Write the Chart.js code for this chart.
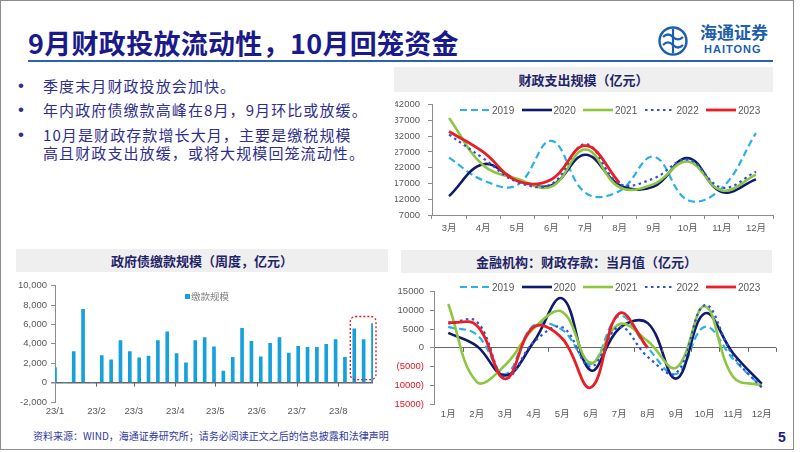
<!DOCTYPE html>
<html>
<head>
<meta charset="utf-8">
<script src="https://cdn.jsdelivr.net/npm/chart.js@4.4.1/dist/chart.umd.min.js"></script>
<style>
  body { margin: 0; background: #fff; }
  #slide { position: relative; width: 802px; height: 452px; overflow: hidden; background: #fff;
           font-family: "Noto Sans CJK SC", sans-serif; }
  #frame { position: absolute; left: 0; top: 0; width: 792px; height: 448px; border: 1px solid #8c8c8c; }
  #title { position: absolute; left: 28px; top: 27px; line-height: 32px; font-size: 27px; font-weight: 700;
           color: #1a1a8c; white-space: nowrap; letter-spacing: 0.3px; }
  #titleLine { position: absolute; left: 28px; top: 60px; width: 745px; height: 1.5px; background: #3060b0; }
  .bullet { position: absolute; left: 43px; font-size: 15px; line-height: 18px; color: #2e2e8f;
            letter-spacing: 1.1px; white-space: nowrap; }
  .bullet::before { content: "•"; position: absolute; left: -25px; top: 0; font-family: "Liberation Sans", Arial, sans-serif;
                    font-size: 17px; line-height: 18px; }
  .panelTitle { position: absolute; background: #efefef; text-align: center; font-size: 13px; font-weight: 700;
                color: #1f2468; }
  canvas { position: absolute; }
  .legend { position: absolute; display: flex; height: 10px; align-items: center;
            font-family: "Liberation Sans", Arial, sans-serif; font-size: 10px; color: #595959; }
  .lg-item { width: 61.5px; display: flex; align-items: center; }
  .lg-item span { margin-left: 2px; }
  #payLegend { position: absolute; left: 185px; top: 289px; font-size: 9.5px; color: #7f7f7f; display: flex;
               align-items: center; }
  #payLegend i { display: inline-block; width: 5px; height: 5px; background: #16a1dc; margin-right: 1px; }
  #footer { position: absolute; left: 33px; top: 429px; font-size: 10px; line-height: 14px; color: #2f3a9f; }
  #pageNo { position: absolute; left: 778px; top: 429px; font-family: "Liberation Sans", Arial, sans-serif;
            font-weight: 700; font-size: 14px; color: #1a1a8c; }
  #logoCn { position: absolute; left: 700px; top: 22px; font-size: 17px; font-weight: 700; color: #1d5fad;
            line-height: 20px; }
  #logoEn { position: absolute; left: 704px; top: 43px; font-family: "Liberation Sans", Arial, sans-serif;
            font-size: 11px; font-weight: 700; letter-spacing: 1px; color: #1d5fad; }
</style>
</head>
<body>
<div id="slide">
  <div id="frame"></div>
  <div id="title">9月财政投放流动性，10月回笼资金</div>
  <div id="titleLine"></div>
  <svg style="position:absolute;left:657px;top:25px" width="32" height="32" viewBox="0 0 32 32">
    <circle cx="16" cy="16" r="13.5" fill="none" stroke="#1d5fad" stroke-width="2.4"/>
    <path d="M16 4 V28" stroke="#1d5fad" stroke-width="2.2" fill="none"/>
    <path d="M6 12 Q11 7 16 12 Q21 17 26 12" stroke="#1d5fad" stroke-width="2.2" fill="none"/>
    <path d="M6 20 Q11 15 16 20 Q21 25 26 20" stroke="#1d5fad" stroke-width="2.2" fill="none"/>
  </svg>
  <div id="logoCn">海通证券</div>
  <div id="logoEn">HAITONG</div>

  <div class="bullet" style="top:77px">季度末月财政投放会加快。</div>
  <div class="bullet" style="top:101px">年内政府债缴款高峰在8月，9月环比或放缓。</div>
  <div class="bullet" style="top:126px">10月是财政存款增长大月，主要是缴税规模<br>高且财政支出放缓，或将大规模回笼流动性。</div>

  <div class="panelTitle" style="left:394px;top:67px;width:379px;height:25px;line-height:25px">财政支出规模（亿元）</div>
  <canvas id="expChart" width="400" height="143" style="left:395px;top:91px"></canvas>
  <div class="legend" id="expLegend" style="left:460px;top:105px"></div>

  <div class="panelTitle" style="left:16px;top:249px;width:372px;height:23px;line-height:23px">政府债缴款规模（周度，亿元）</div>
  <canvas id="payChart" width="385" height="141" style="left:8px;top:276px"></canvas>
  <div id="payLegend"><i></i>缴款规模</div>

  <div class="panelTitle" style="left:401px;top:250px;width:371px;height:23px;line-height:23px">金融机构：财政存款：当月值（亿元）</div>
  <canvas id="depChart" width="400" height="140" style="left:395px;top:280px"></canvas>
  <div class="legend" id="depLegend" style="left:460px;top:282px"></div>

  <div id="footer">资料来源：WIND，海通证券研究所；请务必阅读正文之后的信息披露和法律声明</div>
  <div id="pageNo">5</div>
</div>

<script>
// 财政支出规模（亿元）
const expMonths = ['3月', '4月', '5月', '6月', '7月', '8月', '9月', '10月', '11月', '12月'];
const exp2019 = [25200, 18000, 16500, 30500, 14000, 14600, 25500, 11700, 15500, 33000];
const exp2020 = [13000, 23100, 18200, 16400, 26100, 16500, 16000, 25100, 14300, 18300];
const exp2021 = [37800, 22800, 18500, 16000, 27800, 15800, 16800, 24000, 14800, 19800];
const exp2022 = [32500, 25000, 17500, 16800, 29500, 16900, 18600, 24600, 15700, 20700];
const exp2023 = [33500, 27000, 17800, 18300, 29000, 17200, null, null, null, null];

// 金融机构：财政存款：当月值（亿元）
const depMonths = ['1月', '2月', '3月', '4月', '5月', '6月', '7月', '8月', '9月', '10月', '11月', '12月'];
const dep2019 = [5600, 3500, -7000, 6000, 4800, -4300, 8500, 0, -7000, 5600, -3000, -10500];
const dep2020 = [4000, 500, -7400, 1600, 13200, -6000, 5200, 6600, -8200, 9200, -1500, -9600];
const dep2021 = [11700, -9100, -4600, 5200, 9600, -4000, 6300, 1800, -5300, 11100, -7800, -10000];
const dep2022 = [6500, 7000, -8000, 1500, 5500, -5000, 5600, -2400, -6700, 11400, -2200, -10600];
const dep2023 = [6800, 6000, -8300, 5600, 2500, -10600, 9200, 0, null, null, null, null];

// 政府债缴款规模（周度，亿元）：x 为自 2023-01-01 起的天数
const payDays = [0, 7, 14, 21, 28, 35, 42, 49, 56, 63, 70, 77, 84, 91, 98, 105, 112, 119, 126, 133, 140,
                 147, 154, 161, 168, 175, 182, 189, 196, 203, 210, 217, 224, 231, 238];
const payValues = [1550, 0, 3200, 7550, 0, 2800, 2350, 4350, 3200, 2550, 2750, 4330, 5250, 3000, 2050, 4350,
                   4650, 3700, 1200, 2600, 5600, 4250, 2650, 4050, 4650, 3050, 3750, 3650, 3650, 3950, 4450,
                   2600, 5550, 4450, 6100];
const payTickDays = [0, 31, 59, 90, 120, 151, 181, 212];
const payTickLabels = ['23/1', '23/2', '23/3', '23/4', '23/5', '23/6', '23/7', '23/8'];

const seriesNames = ['2019', '2020', '2021', '2022', '2023'];

// 样式
const seriesColors = ['#2bb0e6', '#0d1a6e', '#8dc63f', '#2f4fd8', '#ec1c24'];
const seriesDash = [[7, 4], [], [], [2.5, 3.5], []];
const seriesWidth = [2.2, 2.6, 2.6, 2.2, 2.8];
const axisColor = '#8c8c8c';
const labelColor = '#595959';
const tickFont = { family: '"Liberation Sans", "Noto Sans CJK SC", sans-serif', size: 9.5 };

Chart.defaults.animation = false;
Chart.defaults.responsive = false;
Chart.defaults.devicePixelRatio = 1;
Chart.defaults.plugins.legend.display = false;
Chart.defaults.plugins.tooltip.enabled = false;

function lineDatasets(series) {
    return series.map((data, i) => ({
        label: seriesNames[i],
        data: data,
        borderColor: seriesColors[i],
        borderWidth: seriesWidth[i],
        borderDash: seriesDash[i],
        pointRadius: 0,
        tension: 0.4,
        fill: false,
        order: series.length - i
    }));
}

function buildLegend(id) {
    const box = document.getElementById(id);
    seriesNames.forEach((name, i) => {
        const item = document.createElement('div');
        item.className = 'lg-item';
        const dash = seriesDash[i].length ? `stroke-dasharray="${seriesDash[i].join(',')}"` : '';
        item.innerHTML = `<svg width="30" height="6"><line x1="0" y1="3" x2="30" y2="3" stroke="${seriesColors[i]}" ` +
            `stroke-width="${seriesWidth[i]}" ${dash}/></svg><span>${name}</span>`;
        box.appendChild(item);
    });
}

// 0 轴上的刻度线
function zeroTicks(getXs) {
    return {
        id: 'zeroTicks',
        afterDraw(chart) {
            const { ctx, scales: { x, y } } = chart;
            const y0 = y.getPixelForValue(0);
            ctx.save();
            ctx.strokeStyle = '#666';
            ctx.lineWidth = 1;
            ctx.beginPath();
            getXs(x).forEach(px => {
                ctx.moveTo(Math.round(px) + 0.5, y0);
                ctx.lineTo(Math.round(px) + 0.5, y0 + 4);
            });
            ctx.stroke();
            ctx.restore();
        }
    };
}

// 财政支出规模
function createExpChart() {
    new Chart(document.getElementById('expChart'), {
        type: 'line',
        data: {
            labels: expMonths,
            datasets: lineDatasets([exp2019, exp2020, exp2021, exp2022, exp2023])
        },
        options: {
            layout: { padding: { top: 0, right: 22, left: 0, bottom: 0 } },
            scales: {
                x: {
                    offset: true,
                    afterFit: s => { s.height = 19; },
                    grid: { offset: true, drawOnChartArea: false, tickLength: 4, color: axisColor },
                    border: { color: axisColor },
                    ticks: { color: labelColor, font: tickFont, padding: 4, maxRotation: 0, autoSkip: false }
                },
                y: {
                    min: 7000,
                    max: 42000,
                    afterFit: s => { s.width = 37; },
                    grid: { drawOnChartArea: false, tickLength: 4, color: axisColor },
                    border: { color: axisColor },
                    ticks: { stepSize: 5000, color: labelColor, font: tickFont, padding: 8, callback: v => String(v) }
                }
            }
        }
    });
}

// 政府债缴款规模
function createPayChart() {
    const highlightBox = {
        id: 'highlightBox',
        afterDatasetsDraw(chart) {
            const { ctx, scales: { x, y } } = chart;
            const n = payDays.length;
            const left = x.getPixelForValue(payDays[n - 3]) - 4;
            const right = x.getPixelForValue(payDays[n - 1]) + 3;
            const top = y.getPixelForValue(Math.max(...payValues.slice(-3))) - 7;
            const bottom = y.getPixelForValue(0) - 3;
            ctx.save();
            ctx.strokeStyle = '#e8141c';
            ctx.lineWidth = 1.3;
            ctx.setLineDash([2, 2]);
            ctx.beginPath();
            ctx.roundRect(left, top, right - left, bottom - top, 5);
            ctx.stroke();
            ctx.restore();
        }
    };

    new Chart(document.getElementById('payChart'), {
        type: 'bar',
        data: {
            datasets: [{
                label: '缴款规模',
                data: payDays.map((d, i) => ({ x: d, y: payValues[i] })),
                backgroundColor: '#16a1dc',
                barThickness: 3
            }]
        },
        options: {
            layout: { padding: { top: 0, right: 20, left: 0, bottom: 0 } },
            scales: {
                x: {
                    type: 'linear',
                    offset: false,
                    min: 0,
                    max: 238,
                    afterFit: s => { s.height = 15; },
                    afterBuildTicks: s => { s.ticks = payTickDays.map(v => ({ value: v })); },
                    grid: { display: false, drawTicks: false },
                    border: { display: false },
                    ticks: {
                        callback: v => payTickLabels[payTickDays.indexOf(v)],
                        autoSkip: false, maxRotation: 0, padding: 4, color: labelColor, font: tickFont
                    }
                },
                y: {
                    min: -2000,
                    max: 10000,
                    afterFit: s => { s.width = 47; },
                    grid: {
                        color: c => c.tick.value === 0 ? '#666' : 'rgba(0,0,0,0)',
                        lineWidth: c => c.tick.value === 0 ? 1.5 : 1,
                        tickColor: axisColor, tickLength: 4
                    },
                    border: { color: axisColor },
                    ticks: {
                        stepSize: 2000, color: labelColor, font: tickFont, padding: 4,
                        callback: v => v.toLocaleString('en-US')
                    }
                }
            }
        },
        plugins: [highlightBox, zeroTicks(x => payTickDays.slice(1).map(d => x.getPixelForValue(d)))]
    });
}

// 财政存款当月值
function createDepChart() {
    new Chart(document.getElementById('depChart'), {
        type: 'line',
        data: {
            labels: depMonths,
            datasets: lineDatasets([dep2019, dep2020, dep2021, dep2022, dep2023])
        },
        options: {
            layout: { padding: { top: 0, right: 19, left: 0, bottom: 0 } },
            scales: {
                x: {
                    offset: true,
                    afterFit: s => { s.height = 16; },
                    grid: { display: false, drawTicks: false },
                    border: { display: false },
                    ticks: { color: labelColor, font: tickFont, padding: 5, maxRotation: 0, autoSkip: false }
                },
                y: {
                    min: -15000,
                    max: 15000,
                    afterFit: s => { s.width = 39; },
                    grid: {
                        color: c => c.tick.value === 0 ? '#666' : 'rgba(0,0,0,0)',
                        tickColor: axisColor, tickLength: 4
                    },
                    border: { color: axisColor },
                    ticks: {
                        stepSize: 5000, font: tickFont, padding: 6,
                        color: c => c.tick.value < 0 ? '#e8141c' : labelColor,
                        callback: v => v < 0 ? '(' + (-v) + ')' : String(v)
                    }
                }
            }
        },
        plugins: [zeroTicks(x => depMonths.map((m, i) => x.left + (i + 1) * x.width / depMonths.length))]
    });
}

document.addEventListener('DOMContentLoaded', () => {
    buildLegend('expLegend');
    buildLegend('depLegend');
    createExpChart();
    createPayChart();
    createDepChart();
});
</script>
</body>
</html>
